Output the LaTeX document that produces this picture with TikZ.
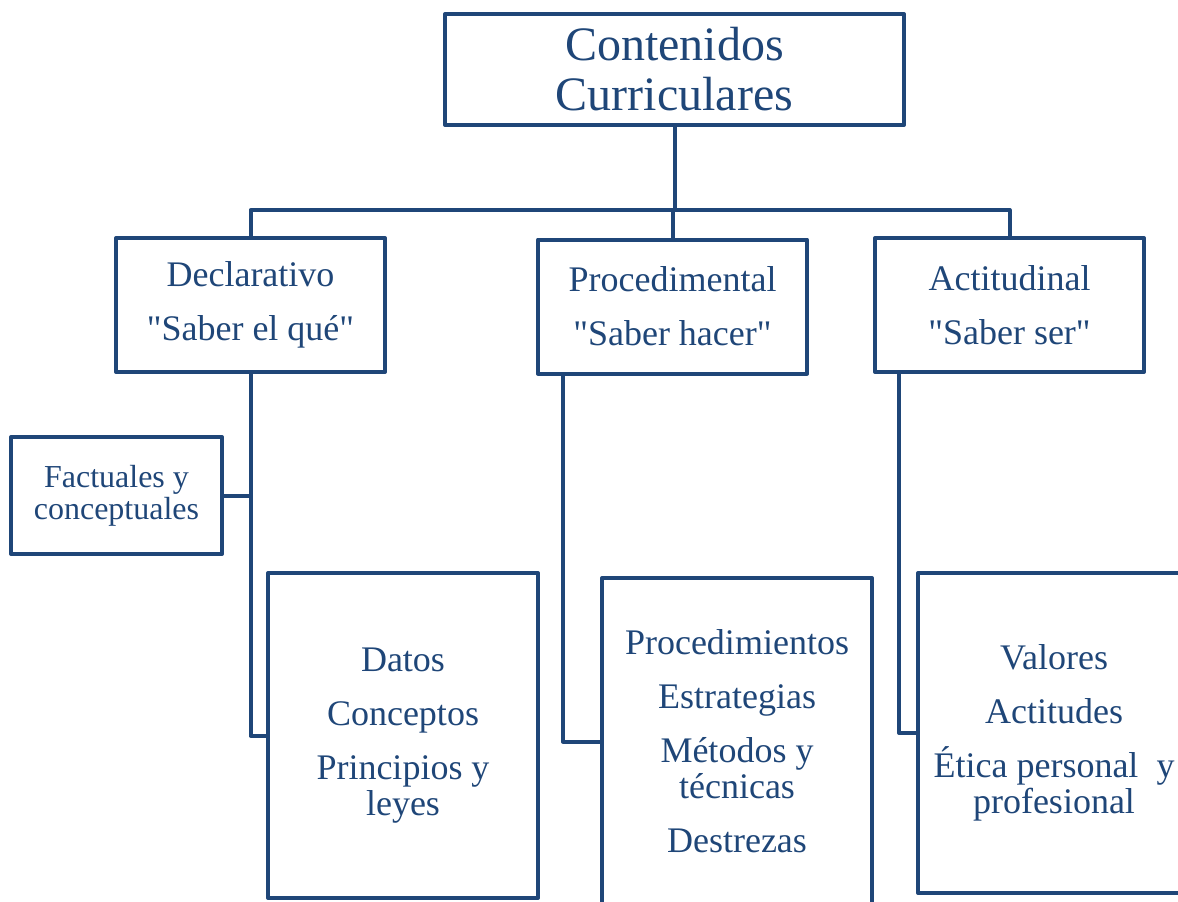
\documentclass[tikz,border=0pt]{standalone}
\usepackage{fontspec}
\setmainfont{Liberation Serif}[Ligatures=TeXOff]
\usepackage{xcolor}
\definecolor{azul}{RGB}{31,70,120}

\begin{document}
\begin{tikzpicture}[x=0.5pt, y=-0.5pt,
  caja/.style={draw=azul, line width=2pt, line join=round, text=azul, align=center, inner sep=0pt},
  cabecera/.style={caja, minimum width=134.5pt, minimum height=67pt, font=\fontsize{18}{27}\selectfont},
  lista/.style={caja, minimum width=135pt, font=\fontsize{18}{18}\selectfont},
  enlace/.style={draw=azul, line width=2pt, line join=round}]
\useasboundingbox (0,0) rectangle (1178,901);
\clip (0,0) rectangle (1178,901);

% Top box
\node[caja, minimum width=229.5pt, minimum height=55.5pt, font=\fontsize{24}{25}\selectfont] (top) at (674.5,69.5) {Contenidos\\Curriculares};

% Three kinds of content
\node[cabecera] (decl) at (250.5,305) {Declarativo\\"Saber el qué"};
\node[cabecera] (proc) at (672.5,306.5) {Procedimental\\"Saber hacer"};
\node[cabecera] (acti) at (1009.5,305) {Actitudinal\\"Saber ser"};

% Side box
\node[caja, minimum width=105.5pt, minimum height=58.5pt, font=\fontsize{16}{16}\selectfont] (fact) at (116.5,495.5) {Factuales y\\conceptuales};

% Lists
\node[lista, minimum height=162.5pt] (datos) at (403,735.5) {Datos\\[9pt]Conceptos\\[9pt]Principios y\\leyes};
\node[lista, minimum height=163.5pt] (procs) at (737,741.5) {Procedimientos\\[9pt]Estrategias\\[9pt]Métodos y\\técnicas\\[9pt]Destrezas};
\node[lista, minimum width=136pt, minimum height=160pt] (valores) at (1054,733) {Valores\\[9pt]Actitudes\\[9pt]Ética personal\ \ y\\profesional};

% Connectors
\coordinate (bar) at (674.5,210);
\draw[enlace] (top.south) -- (bar);
\draw[enlace] (decl.north) |- (bar) -| (acti.north);
\draw[enlace] (proc.north) -- (proc.north |- bar);
\draw[enlace] (decl.south) |- (datos.west);
\draw[enlace] (fact.east) -- (fact.east -| decl.south);
\draw[enlace] ([xshift=13.5pt]proc.south west) |- (procs.west);
\draw[enlace] ([xshift=13pt]acti.south west) |- (valores.west);
\end{tikzpicture}
\end{document}
